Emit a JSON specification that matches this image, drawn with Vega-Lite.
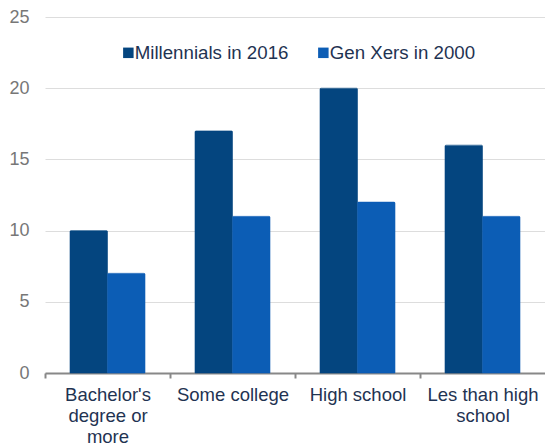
{
  "$schema": "https://vega.github.io/schema/vega-lite/v6.json",
  "width": 500,
  "height": 356,
  "autosize": {"type": "none"},
  "padding": {"left": 45, "top": 17, "right": 0, "bottom": 73},
  "background": "white",
  "config": {
    "font": "Liberation Sans",
    "view": {"stroke": null}
  },
  "data": {
    "values": [
      {"education": "Bachelor's degree or more", "group": "Millennials in 2016", "value": 10},
      {"education": "Bachelor's degree or more", "group": "Gen Xers in 2000", "value": 7},
      {"education": "Some college", "group": "Millennials in 2016", "value": 17},
      {"education": "Some college", "group": "Gen Xers in 2000", "value": 11},
      {"education": "High school", "group": "Millennials in 2016", "value": 20},
      {"education": "High school", "group": "Gen Xers in 2000", "value": 12},
      {"education": "Les than high school", "group": "Millennials in 2016", "value": 16},
      {"education": "Les than high school", "group": "Gen Xers in 2000", "value": 11}
    ]
  },
  "mark": {"type": "bar", "cornerRadiusTopLeft": 1, "cornerRadiusTopRight": 1, "strokeWidth": 0.6},
  "encoding": {
    "x": {
      "field": "education",
      "type": "nominal",
      "sort": null,
      "scale": {"paddingInner": 0, "paddingOuter": 0},
      "axis": {
        "title": null,
        "labelAngle": 0,
        "labelFontSize": 18.5,
        "labelColor": "#1f3352",
        "labelPadding": 7,
        "labelLineHeight": 21,
        "labelExpr": "datum.value == \"Bachelor's degree or more\" ? [\"Bachelor's\", 'degree or', 'more'] : datum.value == 'Les than high school' ? ['Les than high', 'school'] : datum.value",
        "tickOffset": -62.5,
        "labelOffset": 62.5,
        "domainColor": "#888888",
        "domainWidth": 2,
        "tickColor": "#888888",
        "tickWidth": 2,
        "tickSize": 5,
        "grid": false
      }
    },
    "xOffset": {
      "field": "group",
      "type": "nominal",
      "sort": ["Millennials in 2016", "Gen Xers in 2000"],
      "scale": {"paddingInner": 0, "paddingOuter": 0.667}
    },
    "y": {
      "field": "value",
      "type": "quantitative",
      "scale": {"domain": [0, 25]},
      "axis": {
        "title": null,
        "values": [0, 5, 10, 15, 20, 25],
        "labelFontSize": 18,
        "labelColor": "#777777",
        "labelPadding": 16,
        "domain": false,
        "ticks": false,
        "gridColor": "#dddddd",
        "gridWidth": 1
      }
    },
    "stroke": {
      "field": "group",
      "type": "nominal",
      "scale": {"domain": ["Millennials in 2016", "Gen Xers in 2000"], "range": ["#04457f", "#0c5db5"]},
      "legend": null
    },
    "color": {
      "field": "group",
      "type": "nominal",
      "sort": ["Millennials in 2016", "Gen Xers in 2000"],
      "scale": {"domain": ["Millennials in 2016", "Gen Xers in 2000"], "range": ["#04457f", "#0c5db5"]},
      "legend": {
        "title": null,
        "orient": "none",
        "direction": "horizontal",
        "legendX": 74,
        "legendY": 26,
        "symbolType": "square",
        "symbolSize": 110,
        "symbolStrokeWidth": 0,
        "labelFontSize": 18.7,
        "labelColor": "#1f3352",
        "labelOffset": -3,
        "columnPadding": 25
      }
    }
  }
}
